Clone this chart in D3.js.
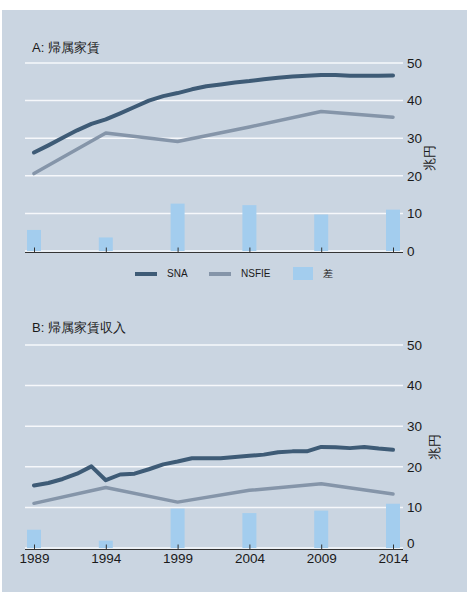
<!DOCTYPE html>
<html><head><meta charset="utf-8">
<script src="https://cdn.jsdelivr.net/npm/d3@7"></script>
<style>body{margin:0;background:#fff;} svg{display:block;}</style>
</head><body>
<script>
const years = [1989,1990,1991,1992,1993,1994,1995,1996,1997,1998,1999,2000,2001,2002,2003,2004,2005,2006,2007,2008,2009,2010,2011,2012,2013,2014];
const surveyYears = [1989,1994,1999,2004,2009,2014];
const tickYears = [1989,1994,1999,2004,2009,2014];
const yTicks = [0,10,20,30,40,50];

// Panel A: imputed rent
const snaA = [26.2,28.1,30.1,32.1,33.8,35.0,36.6,38.3,40.0,41.2,42.0,43.0,43.8,44.3,44.8,45.2,45.7,46.1,46.4,46.6,46.8,46.8,46.6,46.6,46.6,46.7];
const nsfieA = [20.6,31.4,29.1,33.0,37.1,35.6];
const diffA = [5.6,3.6,12.6,12.2,9.7,11.0];

// Panel B: imputed rent income
const snaB = [15.4,16.0,17.0,18.3,20.1,16.7,18.1,18.3,19.4,20.6,21.3,22.1,22.1,22.1,22.4,22.7,23.0,23.6,23.8,23.8,24.9,24.8,24.6,24.9,24.5,24.2];
const nsfieB = [11.0,14.9,11.3,14.2,15.8,13.3];
const diffB = [4.5,1.8,9.7,8.6,9.2,10.9];

const titles = ["A: 帰属家賃","B: 帰属家賃収入"];
const unitLabel = "兆円";
const legendLabels = ["SNA","NSFIE","差"];

const W = 467, H = 600;
const C = {bg:"#cad5e1", sna:"#3e5b76", nsfie:"#8595a9", bar:"#a3cdee", grid:"#f6f8fb", axis:"#333", text:"#1a1a1a"};
const FONT = "'Liberation Sans', Arial, Helvetica, sans-serif";

const svg = d3.select("body").append("svg").attr("width",W).attr("height",H)
  .style("font-family",FONT);
svg.append("rect").attr("x",2).attr("y",10).attr("width",465).attr("height",582).attr("fill",C.bg);

const x = d3.scaleLinear().domain([1989,2014]).range([34,393]);
const barW = 14;

function panel(cfg){
  const y = d3.scaleLinear().domain([0,50]).range([cfg.y0,cfg.y50]);
  const g = svg.append("g");
  g.append("text").attr("x",32).attr("y",cfg.titleY).attr("font-size",13).attr("fill",C.text)
    .text(cfg.title);
  g.selectAll(".grid").data(yTicks).join("line")
    .attr("x1",25).attr("x2",403).attr("y1",d=>y(d)).attr("y2",d=>y(d))
    .attr("stroke",C.grid).attr("stroke-width",1.5);
  const ya = d3.axisRight(y).tickValues(yTicks).tickSize(0).tickPadding(0);
  const yg = g.append("g").attr("transform","translate(407,0)").call(ya);
  yg.select(".domain").remove();
  yg.selectAll("text").attr("font-size",13.5).attr("fill",C.text).attr("font-family",FONT)
    .attr("dy", d => (cfg.showLabels && d===0) ? "-0.05em" : "0.32em");
  g.append("text").attr("transform",`translate(${cfg.unitX},${cfg.unitY}) rotate(-90)`)
    .attr("text-anchor","middle").attr("dominant-baseline","middle")
    .attr("font-size",13).attr("fill",C.text).text(unitLabel);
  g.selectAll(".bar").data(cfg.diff.map((v,i)=>({year:surveyYears[i],v}))).join("rect")
    .attr("x",d=>x(d.year)-barW/2).attr("width",barW)
    .attr("y",d=>y(d.v)).attr("height",d=>y(0)-y(d.v)).attr("fill",C.bar);
  const xa = d3.axisBottom(x).tickValues(tickYears).tickFormat(d3.format("d")).tickSize(-5).tickPadding(cfg.showLabels?4:0);
  const xg = g.append("g").attr("transform",`translate(0,${y(0)+1.5})`).call(xa);
  xg.select(".domain").attr("d",`M25,0H403`).attr("stroke",C.axis).attr("stroke-width",1.2);
  xg.selectAll(".tick line").attr("stroke",C.axis);
  xg.selectAll("text").attr("font-size",13.5).attr("fill",C.text).attr("font-family",FONT)
    .style("display",cfg.showLabels?null:"none");
  const line = d3.line().x(d=>x(d[0])).y(d=>y(d[1]));
  g.append("path").datum(cfg.nsfie.map((v,i)=>[surveyYears[i],v]))
    .attr("d",line).attr("fill","none").attr("stroke",C.nsfie).attr("stroke-width",3.5)
    .attr("stroke-linejoin","round").attr("stroke-linecap","round");
  g.append("path").datum(cfg.sna.map((v,i)=>[years[i],v]))
    .attr("d",line).attr("fill","none").attr("stroke",C.sna).attr("stroke-width",4)
    .attr("stroke-linejoin","round").attr("stroke-linecap","round");
}

panel({title:titles[0],titleY:52,y0:251,y50:63,sna:snaA,nsfie:nsfieA,diff:diffA,showLabels:false,unitX:431,unitY:158});
panel({title:titles[1],titleY:332,y0:548,y50:345,sna:snaB,nsfie:nsfieB,diff:diffB,showLabels:true,unitX:436,unitY:447});

const lg = svg.append("g");
const items = [
  {label:legendLabels[0],type:"line",color:C.sna,sx:135,tx:167},
  {label:legendLabels[1],type:"line",color:C.nsfie,sx:209,tx:241},
  {label:legendLabels[2],type:"rect",color:C.bar,sx:293,tx:323}
];
items.forEach(it=>{
  if(it.type==="line"){
    lg.append("line").attr("x1",it.sx).attr("x2",it.sx+22).attr("y1",274).attr("y2",274)
      .attr("stroke",it.color).attr("stroke-width",4);
  } else {
    lg.append("rect").attr("x",it.sx).attr("y",267).attr("width",20).attr("height",13).attr("fill",it.color);
  }
  lg.append("text").attr("x",it.tx).attr("y",274).attr("dominant-baseline","middle")
    .attr("font-size",10).attr("fill",C.text).text(it.label);
});
</script>
</body></html>
